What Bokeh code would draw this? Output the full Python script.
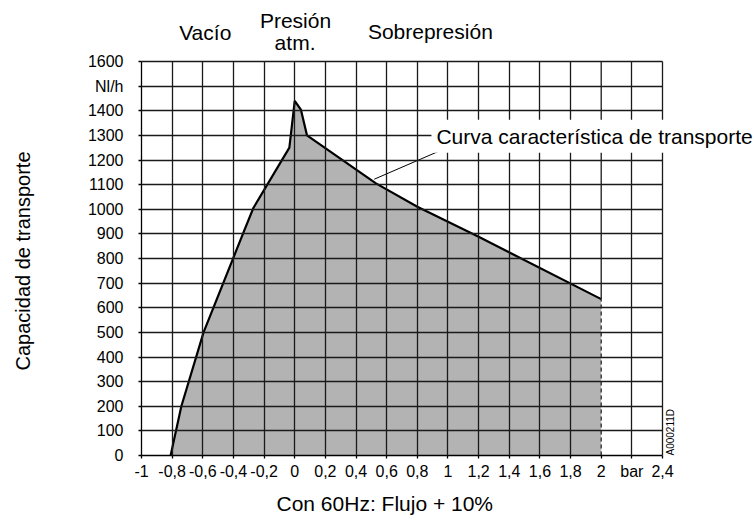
from bokeh.plotting import figure
from bokeh.models import Range1d, FixedTicker, Label, Title
from bokeh.embed import file_html
from bokeh.resources import INLINE
import math

# ---- data ----
pressure_bar = [-0.81, -0.74, -0.595, -0.335, -0.27, -0.035, 0.0, 0.04, 0.08, 0.53, 0.8, 1.2, 2.0]
capacity_nlh = [0, 200, 500, 905, 1005, 1250, 1440, 1405, 1300, 1105, 1010, 888, 635]

x_ticks = [-1, -0.8, -0.6, -0.4, -0.2, 0, 0.2, 0.4, 0.6, 0.8, 1, 1.2, 1.4, 1.6, 1.8, 2, 2.2, 2.4]
x_tick_labels = ["-1", "-0,8", "-0,6", "-0,4", "-0,2", "0", "0,2", "0,4", "0,6", "0,8",
                 "1", "1,2", "1,4", "1,6", "1,8", "2", "bar", "2,4"]
y_ticks = [0, 100, 200, 300, 400, 500, 600, 700, 800, 900, 1000, 1100, 1200, 1300, 1400, 1500, 1600]
y_tick_labels = ["0", "100", "200", "300", "400", "500", "600", "700", "800", "900", "1000",
                 "1100", "1200", "1300", "1400", "Nl/h", "1600"]

region_labels = ["Vacío", "Presión", "atm.", "Sobrepresión"]
curve_label = "Curva característica de transporte"
x_title = "Con 60Hz: Flujo + 10%"
y_title = "Capacidad de transporte"
code_label = "A000211D"

FONT = "Liberation Sans"
INK = "#1a1a1a"

W, H = 754, 522
LEFT, BOTTOM = 141, 67
GRID_W, GRID_H = 521, 394            # pixel size of the gridded area
x0, x1 = x_ticks[0], x_ticks[-1]
y0, y1 = y_ticks[0], y_ticks[-1]
# frame extends to the top and right canvas edges so texts there are not clipped
x_hi = x1 + (W - LEFT - GRID_W) * (x1 - x0) / GRID_W
y_hi = y1 + (H - BOTTOM - GRID_H) * (y1 - y0) / GRID_H
FRAME_H = H - BOTTOM
ypx = y_hi / FRAME_H                  # data units per pixel

def y_at(py):
    """data y for a pixel row measured from the top of the canvas"""
    return (FRAME_H - py) * ypx

p = figure(width=W, height=H, output_backend="svg", toolbar_location=None,
           x_range=Range1d(x0, x_hi), y_range=Range1d(y0, y_hi),
           min_border_left=LEFT, min_border_right=0, min_border_top=0, min_border_bottom=BOTTOM)
p.background_fill_color = "white"
p.border_fill_color = "white"
p.outline_line_color = None

# area + curve
p.varea(x=pressure_bar, y1=0, y2=capacity_nlh, fill_color="#b3b3b3")
p.line(pressure_bar, capacity_nlh, line_color="black", line_width=2.2)

# x = 2 limit: dashed below the curve end, solid above
x_end = pressure_bar[-1]
y_end = capacity_nlh[-1]
p.segment(x0=[x_end], y0=[y0], x1=[x_end], y1=[y_end], line_color="#333333",
          line_width=1.4, line_dash="4 3")
p.segment(x0=[x_end], y0=[y_end], x1=[x_end], y1=[y1], line_color=INK, line_width=1.3)

# leader line for curve label
p.segment(x0=[0.519], y0=[1122], x1=[0.942], y1=[1236], line_color="black", line_width=1.0)

# grid on top of the area
p.xgrid.ticker = FixedTicker(ticks=[t for t in x_ticks if t not in (x0, 2)])
p.ygrid.ticker = FixedTicker(ticks=y_ticks[1:])
p.xgrid.cross_bounds = (y0, y1)
p.ygrid.cross_bounds = (x0, x1)
for g in (p.xgrid, p.ygrid):
    g.grid_line_color = INK
    g.grid_line_width = 1.3
    g.level = "overlay"

# axes
p.xaxis.ticker = FixedTicker(ticks=x_ticks)
p.xaxis.major_label_overrides = dict(zip(x_ticks, x_tick_labels))
p.xaxis.bounds = (x0, x1)
p.yaxis.ticker = FixedTicker(ticks=y_ticks)
p.yaxis.major_label_overrides = dict(zip(y_ticks, y_tick_labels))
p.yaxis.bounds = (y0, y1)
for ax in (p.xaxis, p.yaxis):
    ax.axis_line_color = "black"
    ax.axis_line_width = 1.3
    ax.major_tick_line_color = "black"
    ax.major_tick_line_width = 1.3
    ax.major_tick_in = 0
    ax.major_tick_out = 3
    ax.minor_tick_line_color = None
    ax.major_label_text_font = FONT
    ax.major_label_text_font_size = "16px"
    ax.major_label_text_color = "black"
p.xaxis.major_label_standoff = 4
p.yaxis.major_label_standoff = 15
# blank spacer label widens the left axis panel so the title sits near the canvas edge
p.yaxis.axis_label = " "
p.yaxis.axis_label_text_font_size = "1px"
p.yaxis.axis_label_standoff = 45

# axis titles
p.add_layout(Title(text=y_title, align="left", offset=85, standoff=0, vertical_align="top",
                   text_font=FONT, text_font_size="20px", text_font_style="normal",
                   text_color="black"), "left")
p.add_layout(Title(text=x_title, align="left", offset=135, standoff=15, text_font=FONT,
                   text_font_size="21px", text_font_style="normal", text_color="black"), "below")

def lab(x, py, text, size="21px", align="center", baseline="alphabetic", angle=0.0, **kw):
    l = Label(x=x, y=y_at(py), text=text, text_font=FONT, text_font_size=size,
              text_color="black", text_align=align, text_baseline=baseline, angle=angle,
              level="overlay", **kw)
    p.add_layout(l)
    return l

lab(-0.584, 32, region_labels[0])
lab(0.005, 20.3, region_labels[1])
lab(0.002, 42.3, region_labels[2])
lab(0.885, 31, region_labels[3])
lab(0.892, 135.7, curve_label, align="left", background_fill_color="white", padding=5)
lab(2.4515, FRAME_H, code_label, size="10px", align="left", baseline="middle", angle=math.pi / 2)

open("out.html", "w").write(file_html(p, INLINE))
